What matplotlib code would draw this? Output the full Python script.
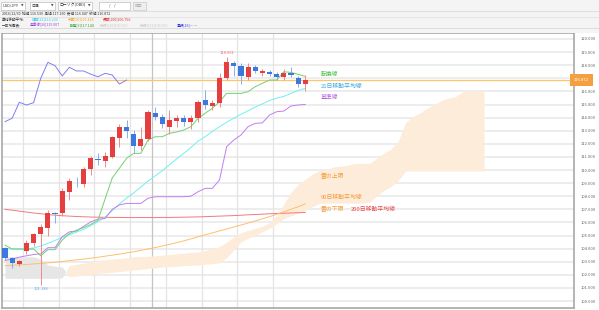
import numpy as np
import matplotlib
matplotlib.use('Agg')
import matplotlib.pyplot as plt
from matplotlib.patches import Rectangle

plt.rcParams['font.family'] = ['Noto Sans CJK JP', 'DejaVu Sans']

# daily candles 2016/11/02 - 2016/12/30 (USD/JPY)
opens = [104.05, 103.26, 102.80, 103.80, 104.40, 105.11, 105.55, 106.74, 106.74, 108.34,
         109.12, 108.93, 110.05, 110.86, 110.71, 111.02, 112.42, 113.31, 112.75, 111.83,
         112.34, 114.33, 114.02, 113.31, 113.76, 113.95, 113.69, 113.95, 115.34, 114.89,
         115.09, 117.05, 118.14, 117.94, 117.12, 117.84, 117.43, 117.46, 117.31, 117.08,
         117.38, 117.05, 116.539]
highs = [104.15, 103.38, 103.10, 104.65, 105.20, 105.88, 106.95, 106.82, 108.60, 109.37,
         109.49, 110.20, 111.10, 111.32, 111.40, 112.60, 113.51, 113.82, 113.05, 113.31,
         114.60, 114.79, 114.30, 114.58, 114.20, 114.20, 114.20, 115.37, 116.11, 115.34,
         117.38, 118.661, 118.34, 118.14, 118.20, 118.00, 117.70, 117.60, 117.45, 117.70,
         117.85, 117.15, 117.260]
lows = [103.10, 102.50, 102.70, 103.60, 104.20, 101.186, 104.96, 105.98, 106.50, 107.71,
        108.73, 108.70, 109.60, 110.38, 110.25, 110.90, 111.78, 112.42, 111.32, 111.53,
        112.20, 113.82, 113.20, 112.75, 113.30, 113.35, 113.10, 113.70, 114.63, 114.60,
        114.83, 116.90, 117.18, 116.56, 116.90, 117.40, 117.20, 117.20, 116.85, 116.85,
        117.10, 116.30, 116.047]
closes = [103.28, 102.92, 103.05, 104.45, 105.10, 105.67, 106.74, 106.66, 108.42, 109.18,
          109.06, 110.05, 110.89, 110.78, 111.09, 112.50, 113.31, 113.00, 111.83, 112.34,
          114.45, 114.02, 113.51, 113.82, 113.95, 113.69, 113.95, 115.17, 114.96, 115.14,
          117.00, 118.22, 117.96, 117.18, 117.84, 117.56, 117.56, 117.31, 117.12, 117.38,
          117.25, 116.56, 116.872]

ma21 = [104.00, 103.98, 103.96, 103.97, 104.05, 104.20, 104.40, 104.62, 104.86, 105.06,
        105.26, 105.47, 105.75, 106.05, 106.40, 106.90, 107.40, 107.85, 108.25, 108.70,
        109.15, 109.55, 109.95, 110.40, 110.85, 111.27, 111.72, 112.20, 112.55, 112.95,
        113.30, 113.65, 113.95, 114.25, 114.52, 114.80, 115.05, 115.30, 115.48, 115.62,
        115.85, 116.08, 116.233]
ma90 = [102.70, 102.73, 102.76, 102.79, 102.83, 102.87, 102.91, 102.96, 103.02, 103.08,
        103.14, 103.20, 103.27, 103.34, 103.42, 103.50, 103.58, 103.67, 103.76, 103.86,
        103.97, 104.08, 104.20, 104.32, 104.45, 104.59, 104.74, 104.90, 105.05, 105.20,
        105.35, 105.50, 105.65, 105.80, 105.95, 106.11, 106.27, 106.44, 106.62, 106.80,
        107.00, 107.20, 107.418]
ma200 = [107.00, 106.93, 106.86, 106.79, 106.72, 106.66, 106.60, 106.55, 106.51, 106.48,
         106.45, 106.43, 106.41, 106.40, 106.39, 106.38, 106.38, 106.37, 106.37, 106.37,
         106.37, 106.37, 106.38, 106.38, 106.39, 106.40, 106.41, 106.42, 106.44, 106.46,
         106.48, 106.50, 106.52, 106.55, 106.58, 106.60, 106.63, 106.66, 106.68, 106.70,
         106.72, 106.74, 106.756]
tenkan = [104.27, 103.97, 103.97, 103.97, 103.97, 103.45, 103.92, 103.92, 104.65, 105.15,
          105.40, 105.60, 105.85, 106.15, 107.80, 109.40, 110.13, 110.89, 111.27, 111.27,
          112.29, 112.54, 112.54, 112.80, 112.90, 113.05, 113.31, 113.95, 114.33, 114.71,
          115.21, 115.85, 115.85, 115.85, 115.98, 116.36, 116.62, 116.87, 116.87, 117.50,
          117.45, 117.30, 117.144]
kijun = [103.10, 103.20, 103.35, 103.45, 103.55, 103.60, 104.07, 104.07, 104.90, 105.28,
         105.34, 105.70, 106.04, 106.25, 106.30, 107.00, 107.33, 107.45, 107.45, 107.45,
         107.84, 107.96, 107.96, 107.96, 107.96, 107.96, 108.00, 108.34, 108.60, 108.60,
         109.24, 111.78, 112.29, 112.67, 113.31, 113.56, 113.60, 114.20, 114.45, 114.50,
         114.89, 114.96, 115.007]

# ichimoku cloud, already shifted 26 days ahead (index 0 .. 67)
span_a = [101.73, 101.73, 101.73, 101.73, 101.73, 101.73, 101.73, 101.73, 101.78, 102.70,
          102.80, 102.88, 103.00, 103.10, 103.15, 103.20, 103.25, 103.30, 103.38, 103.40,
          103.42, 103.45, 103.50, 103.55, 103.60, 103.65, 103.70, 103.75, 103.85, 104.00,
          104.15, 104.50, 104.90, 105.20, 105.40, 105.55, 105.70, 106.00, 106.50, 107.40,
          108.30, 108.90, 109.30, 109.70, 109.95, 110.05, 110.25, 110.30, 110.38, 110.50,
          110.51, 110.51, 110.90, 111.30, 111.60, 112.20, 113.60, 114.07, 114.35, 114.70,
          115.00, 115.30, 115.50, 115.60, 115.98, 116.05, 116.05, 116.05]
span_b = [103.38, 103.38, 103.38, 103.38, 103.38, 103.20, 102.75, 102.65, 102.60, 101.86,
          101.90, 101.95, 102.00, 102.10, 102.15, 102.20, 102.25, 102.30, 102.37, 102.42,
          102.48, 102.52, 102.60, 102.62, 102.65, 102.70, 102.72, 102.75, 102.80, 102.85,
          102.90, 103.30, 103.90, 104.50, 104.80, 105.00, 105.30, 105.55, 105.90, 106.30,
          106.50, 106.70, 106.90, 107.20, 107.46, 107.46, 107.46, 107.46, 107.46, 107.46,
          107.46, 107.55, 108.00, 108.45, 108.75, 109.20, 109.92, 109.92, 109.92, 109.92,
          109.92, 109.92, 109.92, 109.92, 109.92, 109.92, 109.92, 109.92]

last_price = 116.872
month_start = 21          # 2016/12/01
week_starts = [3, 8, 13, 18, 23, 28, 33, 38]
chikou_shift = 25

W, H = 599, 310
fig = plt.figure(figsize=(W / 100, H / 100), dpi=100)
fig.patch.set_facecolor('white')


def fx(x):
    return x / W


def fy(y):
    return 1 - y / H


# ---- header band ----
fig.patches.append(Rectangle((0, fy(33)), 1, 33 / H, transform=fig.transFigure,
                             fc='#f4f4f4', ec='none', zorder=0))
for yy, c in [(11, '#dcdcdc'), (17, '#e2e2e2'), (28, '#d8d8d8')]:
    fig.lines.append(plt.Line2D([0, 1], [fy(yy), fy(yy)], transform=fig.transFigure,
                                color=c, lw=0.6))

controls = [(1, 24, 'USD/JPY'), (30, 25, '日足'), (58, 34, 'ローソク(OBD)')]
for x0, w, t in controls:
    fig.patches.append(Rectangle((fx(x0), fy(9.5)), w / W, 8 / H, transform=fig.transFigure,
                                 fc='white', ec='#b0b0b0', lw=0.4))
    fig.text(fx(x0 + 1.5), fy(5.5), t, fontsize=2.8, color='#333333', va='center')
    fig.text(fx(x0 + w - 4), fy(5.5), '▼', fontsize=2.3, color='#444444', va='center',
             family=['DejaVu Sans'])
fig.patches.append(Rectangle((fx(99), fy(9.5)), 31 / W, 8 / H, transform=fig.transFigure,
                             fc='white', ec='#b0b0b0', lw=0.4))
fig.text(fx(109), fy(5.5), '/    /', fontsize=2.8, color='#333333', va='center')
fig.patches.append(Rectangle((fx(133), fy(9.5)), 13 / W, 8 / H, transform=fig.transFigure,
                             fc='#eeeeee', ec='#c0c0c0', lw=0.4))
fig.text(fx(135), fy(5.5), '検索', fontsize=2.8, color='#aaaaaa', va='center')

hdr = 2.6
fig.text(fx(2), fy(14), '2016/12/30  始値 %.3f  高値 %.3f  安値 %.3f  終値 %.3f'
         % (opens[-1], highs[-1], lows[-1], closes[-1]), fontsize=hdr, color='#333333', va='center')
row2 = [(2, '単純移動平均:', '#333333'), (32, '短期[21]%.3f' % ma21[-1], '#30d0e0'),
        (68, '中期[90]%.3f' % ma90[-1], '#f0a020'), (103, '長期[200]%.3f' % ma200[-1], '#e03030')]
for x0, t, c in row2:
    fig.text(fx(x0), fy(19.5), t, fontsize=hdr, color=c, va='center')
row3 = [(2, '一目均衡表:', '#333333'), (30, '基準線[26]%.3f' % kijun[-1], '#a040e0'),
        (70, '転換[9]%.3f' % tenkan[-1], '#30a030'),
        (100, '先行1[26]%.3f' % span_a[len(closes) - 1], '#c8c8c8'),
        (140, '先行2[52]%.3f' % span_b[len(closes) - 1], '#c8c8c8'),
        (177, '遅行[26]------', '#3030f0')]
for x0, t, c in row3:
    fig.text(fx(x0), fy(25), t, fontsize=hdr, color=c, va='center')

# ---- chart ----
ax = fig.add_axes([fx(2), fy(308), 572 / W, 275 / H])
ax.set_facecolor('white')
n = len(closes)
idx = np.arange(n)
ax.set_xlim(-0.42, 79.58)
ax.set_ylim(99.466, 120.458)

for p in range(100, 121):
    ax.axhline(p, color='#e8e8e8', lw=1.1, zorder=0)
for w in week_starts:
    ax.axvline(w - 0.5, color='#e4e4e4', lw=0.9, zorder=0)
ax.axvline(month_start - 0.5, color='#c4c4c4', lw=0.9, zorder=0)
ax.text(month_start - 0.5, 120.47, '2016/12', fontsize=2.8, color='#555555',
        ha='center', va='bottom', clip_on=False)

ci = np.arange(len(span_a))
sa = np.array(span_a)
sb = np.array(span_b)
ax.fill_between(ci, sa, sb, where=sa >= sb, interpolate=True, color='#feecdb', lw=0, zorder=1)
ax.fill_between(ci, sa, sb, where=sa < sb, interpolate=True, color='#e6e6e6', lw=0, zorder=1)

ax.axhline(last_price, color='#ffc56a', lw=0.9, zorder=2)
ax.plot(idx, ma200, color='#f27a7a', lw=0.7, zorder=3)
ax.plot(idx, ma90, color='#ffbe6e', lw=0.7, zorder=3)
ax.plot(idx, ma21, color='#6ff0f2', lw=0.7, zorder=3)
ax.plot(idx, kijun, color='#c27ef0', lw=0.7, zorder=3)
ax.plot(idx, tenkan, color='#74cf74', lw=0.7, zorder=3)
ax.plot(idx[:n - chikou_shift], closes[chikou_shift:], color='#7f7ff2', lw=0.7, zorder=3)

o = np.array(opens)
c = np.array(closes)
up = c >= o
body_col = np.where(up, '#e53e3e', '#3d78dc')
wick_col = np.where(up, '#f08a8a', '#86aef0')
ax.vlines(idx, lows, highs, colors=wick_col, lw=0.7, zorder=4)
ax.bar(idx, np.maximum(np.abs(c - o), 0.06), bottom=np.minimum(o, c), width=0.72,
       color=body_col, lw=0, zorder=5)

i_hi = int(np.argmax(highs))
i_lo = int(np.argmin(lows))
ax.text(i_hi, highs[i_hi] + 0.15, '%.3f' % highs[i_hi], fontsize=3.0, color='#f07070',
        ha='center', va='bottom')
ax.text(i_lo, lows[i_lo] - 0.15, '%.3f' % lows[i_lo], fontsize=3.0, color='#6aa8f0',
        ha='center', va='top')

lx = 44.2
lab = 4.2
ax.text(lx, 117.30, '転換線', fontsize=lab, color='#4cbf4c', va='center')
ax.text(lx, 116.36, '21日移動平均線', fontsize=lab, color='#3aa8e0', va='center')
ax.text(lx, 115.52, '基準線', fontsize=lab, color='#b060e0', va='center')
ax.text(lx, 109.56, '雲の上限', fontsize=lab, color='#f59a3a', va='center')
ax.text(lx, 107.89, '90日移動平均線', fontsize=lab, color='#f59a3a', va='center')
ax.text(lx, 107.00, '雲の下限', fontsize=lab, color='#f59a3a', va='center')
ax.text(lx + 4.2, 107.00, '200日移動平均線', fontsize=lab, color='#e84848', va='center')

ax.set_xticks([])
ticks = [v for v in range(100, 121) if abs(v - last_price) > 0.5]
ax.set_yticks(ticks)
ax.set_yticklabels(['%.3f' % v for v in ticks])
ax.yaxis.tick_right()
ax.tick_params(axis='y', length=0, pad=5, labelsize=3.0, labelcolor='#666666')
for s in ax.spines.values():
    s.set_color('#a8a8a8')
    s.set_linewidth(1.2)

ax.text(1.0, last_price, '%.3f' % last_price, transform=ax.get_yaxis_transform(),
        fontsize=3.0, color='white', ha='left', va='center', clip_on=False,
        bbox=dict(boxstyle='square,pad=0.9', fc='#f5a040', ec='none'))

fig.savefig('out.png', dpi=100)
